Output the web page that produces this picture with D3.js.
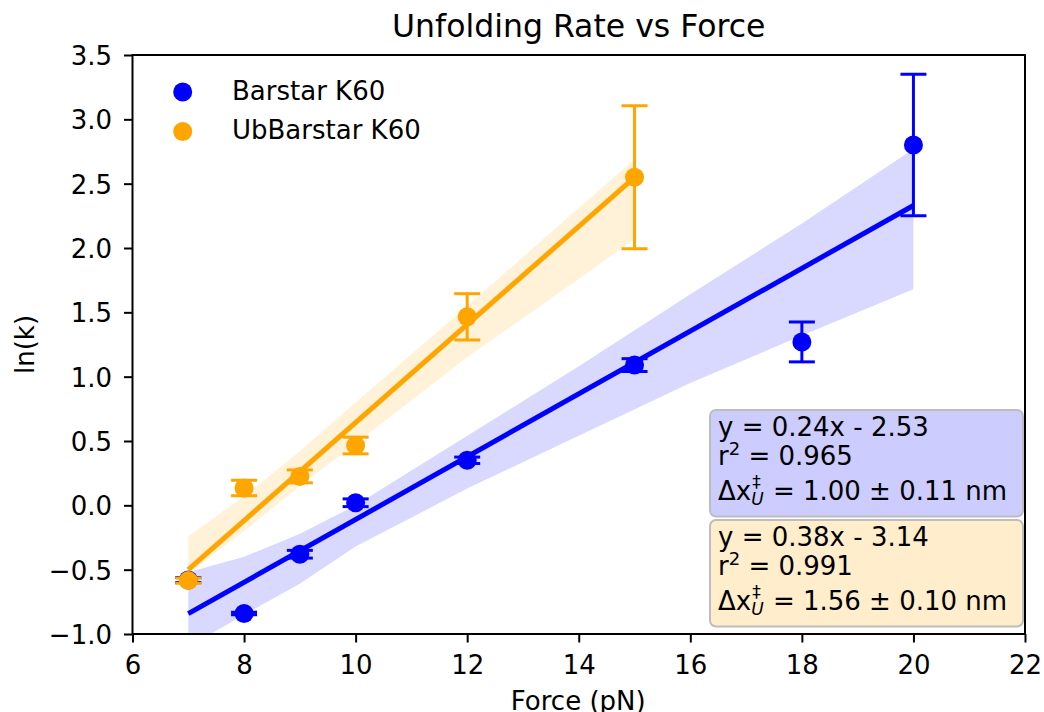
<!DOCTYPE html>
<html>
<head>
<meta charset="utf-8">
<script src="https://cdn.jsdelivr.net/npm/d3@7"></script>
<style>
  html, body { margin: 0; padding: 0; background: #fff; }
  svg { display: block; font-family: "DejaVu Sans", sans-serif; }
</style>
</head>
<body>
<svg id="chart" width="1044" height="712"></svg>
<script>
// ---- data ----
const seriesNames = ["Barstar K60", "UbBarstar K60"];
const seriesColors = ["#0000ff", "#ffa500"];

const forceBarstar = [7, 8, 9, 10, 12, 15, 18, 20];
const lnkBarstar   = [-0.58, -0.84, -0.38, 0.02, 0.35, 1.09, 1.27, 2.80];
const errBarstar   = [0.02, 0.01, 0.03, 0.03, 0.025, 0.05, 0.155, 0.55];

const forceUb = [7, 8, 9, 10, 12, 15];
const lnkUb   = [-0.585, 0.135, 0.225, 0.465, 1.465, 2.55];
const errUb   = [0.02, 0.06, 0.05, 0.065, 0.18, 0.555];

const fitBarstar = { slope: 0.244, intercept: -2.55, x0: 7, x1: 20 };
const fitUb      = { slope: 0.381, intercept: -3.167, x0: 7, x1: 15 };

const bandXBarstar  = [7, 8, 9, 10, 12, 14, 16, 18, 20];
const bandLoBarstar = [-1.10, -0.85, -0.61, -0.32, 0.13, 0.54, 0.95, 1.32, 1.68];
const bandHiBarstar = [-0.52, -0.40, -0.22, 0.00, 0.54, 1.08, 1.64, 2.19, 2.77];

const bandXUb  = [7, 8, 9, 10, 12, 14, 15];
const bandLoUb = [-0.53, -0.20, 0.15, 0.48, 1.15, 1.76, 2.07];
const bandHiUb = [-0.24, 0.07, 0.42, 0.80, 1.55, 2.31, 2.69];

const xTicks = [6, 8, 10, 12, 14, 16, 18, 20, 22];
const yTicks = [-1.0, -0.5, 0.0, 0.5, 1.0, 1.5, 2.0, 2.5, 3.0, 3.5];

const boxTexts = [
  { eq: "y = 0.24x - 2.53", r2: "0.965", dx: " = 1.00 ± 0.11 nm" },
  { eq: "y = 0.38x - 3.14", r2: "0.991", dx: " = 1.56 ± 0.10 nm" }
];

const titleText = "Unfolding Rate vs Force";
const xLabel = "Force (pN)";
const yLabel = "ln(k)";

// ---- layout ----
const svg = d3.select("#chart");
const L = 132.5, R = 1025, T = 55, B = 634;
const x = d3.scaleLinear().domain([6, 22]).range([L, R]);
const y = d3.scaleLinear().domain([-1, 3.5]).range([B, T]);
const FS = 26;

svg.append("defs").append("clipPath").attr("id", "clip")
  .append("rect").attr("x", L).attr("y", T).attr("width", R - L).attr("height", B - T);

const plot = svg.append("g").attr("clip-path", "url(#clip)");

function drawSeries(color, bx, blo, bhi, fit) {
  const band = bx.map((v, i) => ({ x: v, lo: blo[i], hi: bhi[i] }));
  plot.append("path")
    .datum(band)
    .attr("d", d3.area().x(d => x(d.x)).y0(d => y(d.lo)).y1(d => y(d.hi)))
    .attr("fill", color).attr("fill-opacity", 0.15);
  plot.append("line")
    .attr("x1", x(fit.x0)).attr("y1", y(fit.slope * fit.x0 + fit.intercept))
    .attr("x2", x(fit.x1)).attr("y2", y(fit.slope * fit.x1 + fit.intercept))
    .attr("stroke", color).attr("stroke-width", 5);
}
function drawPoints(color, fx, fy, fe) {
  const pts = fx.map((v, i) => ({ x: v, y: fy[i], e: fe[i] }));
  const g = plot.append("g");
  const cap = 13;
  pts.forEach(p => {
    g.append("line").attr("x1", x(p.x)).attr("x2", x(p.x))
      .attr("y1", y(p.y - p.e)).attr("y2", y(p.y + p.e))
      .attr("stroke", color).attr("stroke-width", 3);
    [p.y - p.e, p.y + p.e].forEach(v => {
      g.append("line").attr("x1", x(p.x) - cap).attr("x2", x(p.x) + cap)
        .attr("y1", y(v)).attr("y2", y(v))
        .attr("stroke", color).attr("stroke-width", 3);
    });
  });
  g.selectAll("circle").data(pts).join("circle")
    .attr("cx", d => x(d.x)).attr("cy", d => y(d.y)).attr("r", 9.5)
    .attr("fill", color);
}

drawSeries(seriesColors[0], bandXBarstar, bandLoBarstar, bandHiBarstar, fitBarstar);
drawPoints(seriesColors[0], forceBarstar, lnkBarstar, errBarstar);
drawSeries(seriesColors[1], bandXUb, bandLoUb, bandHiUb, fitUb);
drawPoints(seriesColors[1], forceUb, lnkUb, errUb);

// ---- axes ----
const xAxis = d3.axisBottom(x).tickValues(xTicks).tickFormat(d3.format("d")).tickSize(8.5);
const yAxis = d3.axisLeft(y).tickValues(yTicks).tickFormat(d3.format(".1f")).tickSize(8.5);
const gx = svg.append("g").attr("transform", `translate(0,${B})`).call(xAxis);
const gy = svg.append("g").attr("transform", `translate(${L},0)`).call(yAxis);
[gx, gy].forEach(g => {
  g.select(".domain").remove();
  g.selectAll(".tick line").attr("stroke", "#000").attr("stroke-width", 2);
  g.selectAll(".tick text").attr("font-size", FS).attr("font-family", "DejaVu Sans").attr("fill", "#000");
});
gx.selectAll(".tick text").attr("y", 40).attr("dy", 0);
gy.selectAll(".tick text").attr("x", -20.5).attr("dy", "0.36em");
svg.append("rect").attr("x", L).attr("y", T).attr("width", R - L).attr("height", B - T)
  .attr("fill", "none").attr("stroke", "#000").attr("stroke-width", 2);

// ---- labels ----
svg.append("text").attr("x", (L + R) / 2).attr("y", 37).attr("text-anchor", "middle")
  .attr("font-size", 31.5).text(titleText);
svg.append("text").attr("x", (L + R) / 2 - 0.5).attr("y", 710).attr("text-anchor", "middle")
  .attr("font-size", FS).text(xLabel);
svg.append("text").attr("transform", `translate(33.5,${(T + B) / 2}) rotate(-90)`)
  .attr("text-anchor", "middle").attr("font-size", FS).text(yLabel);

// ---- legend ----
seriesNames.forEach((n, i) => {
  const yy = 92 + i * 39.5;
  svg.append("circle").attr("cx", 182.7).attr("cy", yy).attr("r", 9.5).attr("fill", seriesColors[i]);
  svg.append("text").attr("x", 232).attr("y", yy + 7.5).attr("font-size", FS).text(n);
});

// ---- annotation boxes ----
const boxFills = ["#ccccff", "#ffedcc"];
boxTexts.forEach((bt, i) => {
  const by = 410 + i * 110;
  svg.append("rect").attr("x", 710).attr("y", by).attr("width", 313).attr("height", 106.5)
    .attr("rx", 6).attr("ry", 6)
    .attr("fill", boxFills[i]).attr("stroke", "#bdbdbd").attr("stroke-width", 2);
  const tx = 718;
  svg.append("text").attr("x", tx).attr("y", by + 26).attr("font-size", FS).text(bt.eq);
  const r2 = svg.append("text").attr("x", tx).attr("y", by + 55).attr("font-size", FS);
  r2.append("tspan").text("r");
  r2.append("tspan").attr("font-size", 18).attr("dy", -10).text("2");
  r2.append("tspan").attr("dy", 10).text(" = " + bt.r2);
  const t1 = svg.append("text").attr("x", tx).attr("y", by + 90).attr("font-size", FS).text("Δx");
  const w = t1.node().getComputedTextLength();
  svg.append("text").attr("x", tx + w + 1).attr("y", by + 78).attr("font-size", 17).text("‡");
  const s2 = svg.append("text").attr("x", tx + w + 0).attr("y", by + 95).attr("font-size", 17)
    .attr("font-style", "italic").text("U");
  const w2 = s2.node().getComputedTextLength();
  svg.append("text").attr("x", tx + w + w2 + 1).attr("y", by + 90).attr("font-size", FS)
    .attr("xml:space", "preserve").style("white-space", "pre").text(bt.dx);
});
</script>
</body>
</html>
